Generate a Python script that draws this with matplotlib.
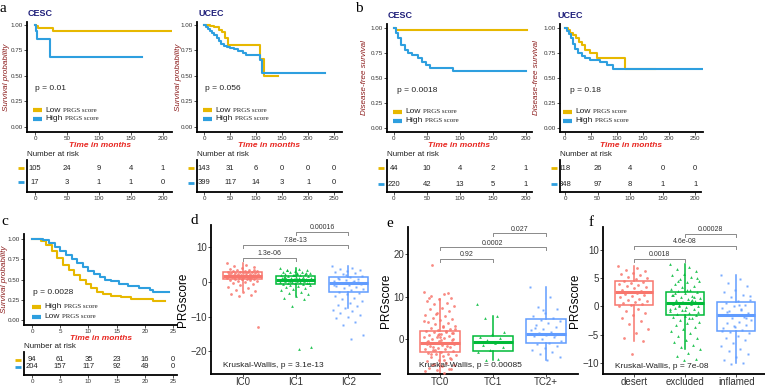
import matplotlib
matplotlib.use("Agg")
import matplotlib.pyplot as plt
from matplotlib.lines import Line2D

plt.rcParams["font.family"] = ["Liberation Sans", "DejaVu Sans"]

YELLOW = "#E7B800"
BLUE = "#2E9FDF"
GG = ["#F8766D", "#00BA38", "#619CFF"]

# ---------------- Kaplan-Meier curves (time, survival) ----------------
a_cesc_low_t = [0, 2, 5, 28, 213]
a_cesc_low_s = [1.0, 0.985, 0.97, 0.94, 0.94]
a_cesc_high_t = [0, 1, 3, 23, 167]
a_cesc_high_s = [1.0, 0.94, 0.86, 0.69, 0.69]

a_ucec_low_t = [0, 12, 20, 28, 34, 40, 46, 108, 115, 142]
a_ucec_low_s = [1.0, 0.99, 0.98, 0.95, 0.93, 0.87, 0.80, 0.67, 0.50, 0.50]
a_ucec_high_t = [0, 4, 8, 12, 16, 20, 24, 28, 33, 38, 44, 50, 58, 66, 74, 80, 108, 111, 232]
a_ucec_high_s = [1.0, 0.98, 0.96, 0.94, 0.92, 0.90, 0.87, 0.84, 0.81, 0.79, 0.78, 0.77, 0.76, 0.74, 0.73, 0.71, 0.66, 0.53, 0.53]

b_cesc_low_t = [0, 3, 201]
b_cesc_low_s = [1.0, 0.975, 0.975]
b_cesc_high_t = [0, 3, 6, 11, 16, 21, 28, 36, 43, 49, 54, 90, 200]
b_cesc_high_s = [1.0, 0.95, 0.90, 0.83, 0.78, 0.75, 0.73, 0.70, 0.66, 0.63, 0.60, 0.57, 0.57]

b_ucec_low_t = [0, 5, 10, 16, 22, 27, 32, 38, 48, 61, 115, 173]
b_ucec_low_s = [1.0, 0.98, 0.95, 0.93, 0.90, 0.86, 0.83, 0.78, 0.75, 0.70, 0.59, 0.59]
b_ucec_high_t = [0, 4, 8, 12, 16, 20, 25, 32, 38, 48, 67, 80, 92, 265]
b_ucec_high_s = [1.0, 0.97, 0.94, 0.90, 0.84, 0.79, 0.75, 0.72, 0.70, 0.68, 0.66, 0.63, 0.59, 0.59]

c_high_t = [0, 1.5, 2.5, 3.5, 4.5, 5.5, 6.5, 7.5, 8.5, 9.5, 10.5, 11.5, 12.5, 14, 15.7, 17.5, 21.4, 23.5]
c_high_s = [1.0, 0.98, 0.93, 0.85, 0.76, 0.68, 0.62, 0.56, 0.50, 0.45, 0.40, 0.35, 0.32, 0.30, 0.28, 0.26, 0.23, 0.23]
c_low_t = [0, 2, 3, 4, 5, 6, 7, 8, 9, 10, 11, 12, 13, 14, 15.5, 17, 19, 21, 21.5, 24.3]
c_low_s = [1.0, 0.99, 0.95, 0.90, 0.85, 0.80, 0.75, 0.70, 0.65, 0.61, 0.57, 0.53, 0.50, 0.48, 0.45, 0.42, 0.40, 0.37, 0.34, 0.34]

# ---------------- numbers at risk ----------------
risk_t_200 = [0, 50, 100, 150, 200]
risk_t_250 = [0, 50, 100, 150, 200, 250]
risk_t_25 = [0, 5, 10, 15, 20, 25]
a_cesc_risk_low = [105, 24, 9, 4, 1]
a_cesc_risk_high = [17, 3, 1, 1, 0]
a_ucec_risk_low = [143, 31, 6, 0, 0, 0]
a_ucec_risk_high = [399, 117, 14, 3, 1, 0]
b_cesc_risk_low = [44, 10, 4, 2, 1]
b_cesc_risk_high = [220, 42, 13, 5, 1]
b_ucec_risk_low = [118, 26, 4, 0, 0]
b_ucec_risk_high = [348, 97, 8, 1, 1]
c_risk_high = [94, 61, 35, 23, 16, 0]
c_risk_low = [204, 157, 117, 92, 49, 0]

# ---------------- box plots ----------------
d_groups = ["IC0", "IC1", "IC2"]
# (whislo, q1, med, q3, whishi)
d_stats = [(-2.5, 0.8, 1.8, 3.0, 5.5), (-4.0, -0.6, 0.6, 1.7, 4.0), (-7.5, -2.8, -0.3, 1.5, 4.5)]
d_ic0 = [5.5, 5.0, 4.6, 4.3, 4.0, 3.8, 3.6, 3.5, 3.3, 3.2, 3.1, 3.0, 3.0, 2.9, 2.8, 2.7, 2.6, 2.5,
         2.5, 2.4, 2.3, 2.2, 2.1, 2.0, 2.0, 1.9, 1.8, 1.8, 1.7, 1.6, 1.5, 1.4, 1.3, 1.2, 1.1, 1.0,
         1.0, 0.9, 0.8, 0.7, 0.6, 0.4, 0.2, 0.0, -0.3, -0.6, -1.0, -1.4, -1.8, -2.2, -2.6, -3.0,
         -3.4, -3.8, -4.0, -13.0, 2.6, 1.5, 3.4, 0.9, 2.2, 1.2]
d_ic1 = [4.0, 3.8, 3.6, 3.4, 3.2, 3.0, 2.9, 2.8, 2.6, 2.5, 2.4, 2.2, 2.1, 2.0, 1.9, 1.8, 1.7, 1.6,
         1.5, 1.4, 1.3, 1.2, 1.1, 1.0, 0.9, 0.8, 0.7, 0.6, 0.6, 0.5, 0.4, 0.3, 0.2, 0.1, 0.0, -0.1,
         -0.2, -0.3, -0.4, -0.5, -0.6, -0.8, -1.0, -1.2, -1.5, -1.8, -2.1, -2.4, -2.8, -3.2, -3.6,
         -4.0, -4.5, -5.0, -7.0, -18.8, -19.4, 3.5, 2.7, 1.9, 1.2, 0.8, 0.3, -0.2, 2.3, 1.6, 0.5]
d_ic2 = [4.6, 4.2, 3.9, 3.5, 3.1, 2.8, 2.5, 2.2, 1.8, 1.5, 1.2, 0.9, 0.6, 0.3, 0.0, -0.3, -0.6, -0.9,
         -1.2, -1.5, -1.8, -2.1, -2.4, -2.8, -3.2, -3.6, -4.0, -4.5, -5.0, -5.5, -6.0, -6.5, -7.0,
         -7.5, -8.0, -8.5, -9.0, -9.5, -10.0, -10.5, -11.5, -12.3, -15.2, -16.5, 1.0, -0.1, 2.0, -1.0, 0.4]
d_brackets = [(1, 2, 7.0, "1.3e-06"), (1, 3, 10.7, "7.8e-13"), (2, 3, 14.5, "0.00016")]

e_groups = ["TC0", "TC1", "TC2+"]
e_stats = [(-9.0, -3.1, -0.8, 1.9, 9.4), (-5.0, -2.8, -0.7, 0.8, 5.5), (-5.0, -0.8, 1.2, 4.8, 12.2)]
e_tc0 = [11.0, 10.6, 10.2, 9.8, 9.4, 9.0, 8.6, 8.2, 7.8, 7.4, 7.0, 6.6, 6.2, 5.8, 5.4, 5.0, 4.7, 4.4,
         4.1, 3.8, 3.5, 3.2, 2.9, 2.6, 2.4, 2.2, 2.0, 1.8, 1.6, 1.4, 1.2, 1.0, 0.8, 0.6, 0.4, 0.2, 0.0,
         -0.2, -0.4, -0.6, -0.8, -1.0, -1.2, -1.4, -1.6, -1.8, -2.0, -2.2, -2.4, -2.6, -2.8, -3.0,
         -3.2, -3.4, -3.6, -3.8, -4.0, -4.3, -4.6, -4.9, -5.2, -5.5, -5.8, -6.1, -6.4, -6.7, -7.0,
         -7.3, -7.6, -8.0, 17.5, 1.5, 0.5, -0.5, -1.5, -2.5, 2.5, 3.0, -3.5, -4.5, 0.9, -0.9, 1.9,
         -1.9, 0.1, -0.1, 9.6, 10.8, 6.0, 4.2, -5.0, -6.0, -7.0, 1.1, -1.1]
e_tc1 = [8.3, 5.5, 5.0, 1.6, 1.2, 0.6, 0.2, -0.3, -0.6, -0.9, -1.3, -1.8, -2.5, -3.0, -4.6, -5.0]
e_tc2 = [12.2, 10.0, 7.5, 7.0, 6.2, 5.5, 5.0, 4.6, 4.2, 3.8, 3.3, 2.9, 2.5, 2.1, 1.8, 1.5, 1.3, 1.0,
         0.7, 0.4, 0.0, -0.4, -0.8, -1.2, -1.6, -2.0, -2.5, -3.0, -3.5, -4.2, -5.0, 2.7, 0.9, 6.8]
e_brackets = [(1, 2, 18.8, "0.92"), (1, 3, 21.6, "0.0002"), (2, 3, 24.9, "0.027")]

f_groups = ["desert", "excluded", "inflamed"]
f_stats = [(-6.2, 0.2, 2.6, 4.6, 7.2), (-7.6, -1.6, 0.6, 2.6, 7.5), (-10.0, -4.3, -1.5, 0.8, 5.5)]
f_desert = [7.2, 6.8, 6.5, 6.2, 6.0, 5.7, 5.5, 5.2, 5.0, 4.8, 4.6, 4.4, 4.2, 4.0, 3.8, 3.6, 3.4, 3.2,
            3.0, 2.8, 2.6, 2.6, 2.4, 2.2, 2.0, 1.8, 1.6, 1.4, 1.2, 1.0, 0.8, 0.6, 0.4, 0.2, 0.0, -0.4,
            -0.8, -1.2, -1.6, -2.0, -2.6, -3.2, -4.0, -4.8, -5.6, -6.2, -8.5]
f_excluded = [7.5, 7.0, 6.6, 6.2, 5.8, 5.5, 5.2, 4.9, 4.6, 4.3, 4.0, 3.7, 3.4, 3.1, 2.9, 2.7, 2.5, 2.3,
              2.1, 1.9, 1.7, 1.5, 1.3, 1.1, 0.9, 0.7, 0.6, 0.5, 0.3, 0.1, -0.1, -0.3, -0.5, -0.7, -0.9,
              -1.1, -1.3, -1.5, -1.7, -1.9, -2.1, -2.4, -2.7, -3.0, -3.3, -3.6, -4.0, -4.4, -4.8, -5.2,
              -5.6, -6.0, -6.4, -6.8, -7.2, -7.6, -8.2, -8.8, -9.3, -9.6, 2.0, 1.0, 0.0, -1.0, 3.0, 2.4,
              1.6, 0.8, -0.4, -2.0, 4.5, 5.0, -0.6, 0.4, 1.2]
f_inflamed = [5.5, 4.8, 4.2, 3.6, 3.0, 2.5, 2.0, 1.6, 1.2, 0.9, 0.6, 0.3, 0.0, -0.3, -0.6, -0.9, -1.2,
              -1.5, -1.5, -1.8, -2.1, -2.4, -2.7, -3.0, -3.3, -3.6, -3.9, -4.2, -4.5, -4.8, -5.2, -5.6,
              -6.0, -6.5, -7.0, -7.5, -8.0, -8.5, -9.0, -9.5, -10.0, -10.2, 1.9, 0.2, -1.0, -2.0, -3.5,
              -4.4, -0.5]
f_brackets = [(1, 2, 8.4, "0.0018"), (1, 3, 10.7, "4.6e-08"), (2, 3, 12.9, "0.00028")]

W, H = 765, 387
fig = plt.figure(figsize=(W / 100, H / 100), dpi=100)


def px_axes(l, t, r, b):
    return fig.add_axes([l / W, 1 - b / H, (r - l) / W, (b - t) / H])


def ftext(x, y, s, **kw):
    return fig.text(x / W, 1 - y / H, s, **kw)


def fline(x0, x1, y, color, lw):
    fig.add_artist(Line2D([x0 / W, x1 / W], [1 - y / H, 1 - y / H], color=color, lw=lw,
                          transform=fig.transFigure, solid_capstyle="butt"))


def style_axes(ax, size):
    for s in ["top", "right"]:
        ax.spines[s].set_visible(False)
    for s in ["left", "bottom"]:
        ax.spines[s].set_linewidth(1.3)
    ax.tick_params(labelsize=size, length=2, width=0.6, pad=1, colors="#333333")


def km_panel(main_box, ylim, xlim, xticks, curves, risk_box, risk_xlim, risk_t, risk_rows,
             title, title_xy, ylabel, ylabel_x, p_text, p_xy, legend_xy, legend_gap, labels):
    ax = px_axes(*main_box)
    for t, s, c in curves:
        ax.step(t, s, where="post", color=c, lw=1.5)
    ax.set_xlim(*xlim)
    ax.set_ylim(*ylim)
    ax.set_xticks(xticks)
    ax.set_yticks([0, 0.25, 0.5, 0.75, 1.0])
    ax.set_yticklabels(["0.00", "0.25", "0.50", "0.75", "1.00"])
    style_axes(ax, 4.5)
    if title:
        ftext(title_xy[0], title_xy[1], title, fontsize=6.5, fontweight="bold", color="#1F1F7A",
              va="center")
    ftext(ylabel_x, (main_box[1] + main_box[3]) / 2, ylabel, rotation=90, ha="center",
          va="center", fontsize=5.8, style="italic", color="#8B1A1A")
    ftext((main_box[0] + main_box[2]) / 2, main_box[3] + 14, "Time in months", ha="center",
          va="center", fontsize=6, style="italic", fontweight="bold", color="#E8251F")
    ftext(p_xy[0], p_xy[1], p_text, fontsize=6, va="center", color="#222222")
    # legend
    lx, ly = legend_xy
    for i, (lab, c) in enumerate(labels):
        y = ly + i * legend_gap
        fline(lx, lx + 9, y, c, 3)
        t1 = ftext(lx + 12, y, lab, fontsize=6, va="center", color="#222222")
        ax.annotate("PRGS score", xy=(1, 0.5), xycoords=t1, xytext=(2, 0),
                    textcoords="offset points", va="center", fontsize=5,
                    family="Liberation Serif", color="#222222", annotation_clip=False)
    # risk table
    rax = px_axes(*risk_box)
    rax.set_xlim(*risk_xlim)
    rax.set_ylim(0, 1)
    rax.set_xticks(risk_t)
    rax.set_yticks([])
    style_axes(rax, 4.5)
    rh = risk_box[3] - risk_box[1]
    for y_px, counts, c in risk_rows:
        yf = (risk_box[3] - y_px) / rh
        for t, n in zip(risk_t, counts):
            rax.text(t, yf, str(n), ha="center", va="center", fontsize=5.5, color="#222222")
        fline(risk_box[0] - 9, risk_box[0] - 3, y_px, c, 2)
    ftext(risk_box[0], risk_box[1] - 6, "Number at risk", fontsize=5.8, va="center",
          color="#222222")
    return ax


km_panel((27, 22, 172, 132), (-0.049, 1.029), (-12.5, 214), risk_t_200,
         [(a_cesc_low_t, a_cesc_low_s, YELLOW), (a_cesc_high_t, a_cesc_high_s, BLUE)],
         (27, 160, 172, 192), (-12.5, 214), risk_t_200,
         [(168, a_cesc_risk_low, YELLOW), (182, a_cesc_risk_high, BLUE)],
         "CESC", (28, 14), "Survival probability", 7, "p = 0.01", (35, 89), (33, 110), 9,
         [("Low", YELLOW), ("High", BLUE)])

km_panel((197, 22, 342, 132), (-0.049, 1.029), (-13.5, 265), risk_t_250,
         [(a_ucec_low_t, a_ucec_low_s, YELLOW), (a_ucec_high_t, a_ucec_high_s, BLUE)],
         (197, 160, 342, 192), (-13.5, 265), risk_t_250,
         [(168, a_ucec_risk_low, YELLOW), (183, a_ucec_risk_high, BLUE)],
         "UCEC", (198, 14), "Survival probability", 178, "p = 0.056", (205, 89), (203, 110), 9,
         [("Low", YELLOW), ("High", BLUE)])

km_panel((387, 24, 532, 132), (-0.04, 1.04), (-10.6, 209), risk_t_200,
         [(b_cesc_low_t, b_cesc_low_s, YELLOW), (b_cesc_high_t, b_cesc_high_s, BLUE)],
         (387, 160, 532, 192), (-10.6, 209), risk_t_200,
         [(168, b_cesc_risk_low, YELLOW), (184, b_cesc_risk_high, BLUE)],
         "CESC", (388, 15), "Disease-free survival", 364, "p = 0.0018", (397, 91), (393, 112), 9,
         [("Low", YELLOW), ("High", BLUE)])

km_panel((560, 24, 703, 132), (-0.04, 1.04), (-9.6, 265), risk_t_250,
         [(b_ucec_low_t, b_ucec_low_s, YELLOW), (b_ucec_high_t, b_ucec_high_s, BLUE)],
         (560, 160, 701, 192), (-7.7, 209), risk_t_200,
         [(168, b_ucec_risk_low, YELLOW), (184, b_ucec_risk_high, BLUE)],
         "UCEC", (558, 15), "Disease-free survival", 536, "p = 0.18", (570, 91), (563, 112), 9,
         [("Low", YELLOW), ("High", BLUE)])

km_panel((24, 234, 177, 325), (-0.061, 1.061), (-1.43, 25.7), risk_t_25,
         [(c_high_t, c_high_s, YELLOW), (c_low_t, c_low_s, BLUE)],
         (24, 352, 177, 375), (-1.43, 25.7), risk_t_25,
         [(359.5, c_risk_high, YELLOW), (367, c_risk_low, BLUE)],
         None, None, "Survival probability", 5, "p = 0.0028", (33, 293), (32, 307), 10,
         [("High", YELLOW), ("Low", BLUE)])


def box_panel(box, ylim, yticks, groups, stats, points, brackets, tick_len, kw_text, kw_xy):
    ax = px_axes(*box)
    markers = ["o", "^", "s"]
    for i, (st, pts) in enumerate(zip(stats, points)):
        pos = i + 1
        lo, q1, med, q3, hi = st
        ax.bxp([{"whislo": lo, "q1": q1, "med": med, "q3": q3, "whishi": hi, "fliers": []}],
               positions=[pos], widths=0.75, showcaps=False, showfliers=False,
               patch_artist=True, manage_ticks=False,
               boxprops=dict(facecolor="none", edgecolor=GG[i], lw=1.1),
               whiskerprops=dict(color=GG[i], lw=1.1),
               medianprops=dict(color=GG[i], lw=2.2))
        xs = [pos + ((k * 0.6180339887) % 1 - 0.5) * 0.6 for k in range(len(pts))]
        ax.plot(xs, pts, ls="none", marker=markers[i], ms=2.0, mec="none", mfc=GG[i],
                alpha=0.85, zorder=3)
    for x1, x2, y, lab in brackets:
        ax.plot([x1, x1, x2, x2], [y - tick_len, y, y, y - tick_len], color="#8a8a8a", lw=0.7)
        ax.text((x1 + x2) / 2, y + tick_len * 0.3, lab, ha="center", va="bottom", fontsize=5,
                color="#333333")
    ax.text(kw_xy[0], kw_xy[1], kw_text, fontsize=6, va="center", color="#222222")
    ax.set_xlim(0.4, 3.6)
    ax.set_ylim(*ylim)
    ax.set_xticks([1, 2, 3])
    ax.set_xticklabels(groups)
    ax.set_yticks(yticks)
    style_axes(ax, 7)
    ax.tick_params(axis="x", labelsize=7, pad=0.5)
    ax.set_ylabel("PRGscore", fontsize=8.5, labelpad=1)
    return ax


box_panel((211, 225, 380, 374), (-26.6, 16.5), [-20, -10, 0, 10], d_groups, d_stats,
          [d_ic0, d_ic1, d_ic2], d_brackets, 0.8, "Kruskal-Wallis, p = 3.1e-13", (0.63, -24.0))
box_panel((408, 227, 578, 374), (-8.2, 26.4), [0, 10, 20], e_groups, e_stats,
          [e_tc0, e_tc1, e_tc2], e_brackets, 0.65, "Kruskal-Wallis, p = 0.00085", (0.61, -6.2))
box_panel((603, 227, 767, 374), (-12.0, 14.1), [-10, -5, 0, 5, 10], f_groups, f_stats,
          [f_desert, f_excluded, f_inflamed], f_brackets, 0.5, "Kruskal-Wallis, p = 7e-08",
          (0.63, -10.6))

for letter, x, y in [("a", 3, 8), ("b", 359, 8), ("c", 5, 221), ("d", 194, 220),
                     ("e", 390, 224), ("f", 591, 223)]:
    ftext(x, y, letter, fontsize=11, family="Liberation Serif", ha="center", va="center")

fig.savefig("out.png", dpi=100)
